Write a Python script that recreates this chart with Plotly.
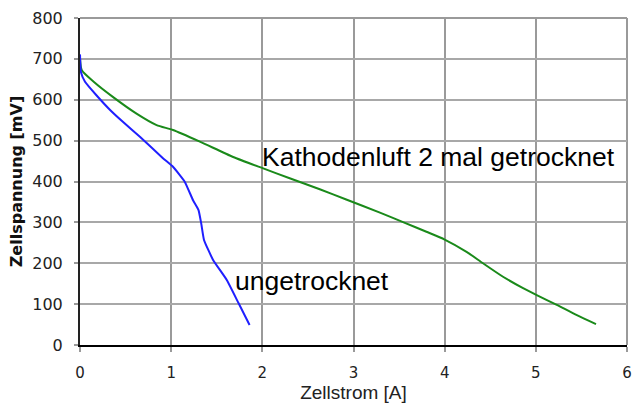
import plotly.graph_objects as go

# Data
x_ungetrocknet = [0.0, 0.01, 0.055, 0.18, 0.33, 0.47, 0.66, 0.91, 1.02, 1.15, 1.24, 1.30, 1.33, 1.36, 1.46, 1.61, 1.74, 1.86]
y_ungetrocknet = [711, 668, 644, 611, 575, 546, 509, 457, 436, 399, 354, 330, 297, 257, 208, 159, 102, 49]

x_getrocknet = [0.0, 0.02, 0.15, 0.36, 0.62, 0.84, 1.02, 1.32, 1.68, 2.01, 2.30, 2.63, 2.92, 3.29, 3.55,
                3.80, 4.0, 4.24, 4.42, 4.64, 4.86, 5.01, 5.23, 5.45, 5.66]
y_getrocknet = [701, 672, 644, 607, 566, 538, 526, 497, 460, 432, 408, 381, 356, 324, 300,
                277, 258, 228, 200, 167, 139, 122, 98, 73, 51]

label_getrocknet = "Kathodenluft 2 mal getrocknet"
label_ungetrocknet = "ungetrocknet"
x_title = "Zellstrom [A]"
y_title = "Zellspannung [mV]"

fig = go.Figure()
fig.add_trace(go.Scatter(x=x_getrocknet, y=y_getrocknet, mode="lines",
                         line=dict(color="#1a8a1a", width=2, shape="spline", smoothing=0.6), showlegend=False))
fig.add_trace(go.Scatter(x=x_ungetrocknet, y=y_ungetrocknet, mode="lines",
                         line=dict(color="#1f1fff", width=2, shape="spline", smoothing=0.4), showlegend=False))

fig.add_annotation(x=3.93, y=461, text=label_getrocknet, showarrow=False,
                   font=dict(family="Liberation Sans, Arial", size=26.5, color="black"))
fig.add_annotation(x=2.54, y=157, text=label_ungetrocknet, showarrow=False,
                   font=dict(family="Liberation Sans, Arial", size=26.5, color="black"))

# plotly omits gridlines that sit on the plot edge; draw the top and right ones
fig.add_shape(type="line", xref="paper", yref="paper", x0=0, x1=1, y0=1, y1=1,
              line=dict(color="#9a9a9a", width=2), layer="below")
fig.add_shape(type="line", xref="paper", yref="paper", x0=1, x1=1, y0=0, y1=1,
              line=dict(color="#9a9a9a", width=2), layer="below")

fig.update_layout(
    width=633, height=403,
    margin=dict(l=80, r=6, t=18, b=58),
    paper_bgcolor="white", plot_bgcolor="white",
    xaxis=dict(range=[0, 6], tickvals=[0, 1, 2, 3, 4, 5, 6], showgrid=True, automargin=False,
               ticklabeloverflow="allow", ticklabelstandoff=8,
               gridcolor="#9a9a9a", gridwidth=2, zeroline=False,
               showline=True, linecolor="black", linewidth=2,
               ticks="outside", ticklen=5, tickcolor="#9a9a9a", tickwidth=2,
               tickfont=dict(family="DejaVu Sans", size=15, color="#222"),
               title=dict(text=x_title, font=dict(family="Liberation Sans, Arial", size=19, color="#222"),
                          standoff=6)),
    yaxis=dict(range=[0, 800], tickvals=[0, 100, 200, 300, 400, 500, 600, 700, 800], showgrid=True,
               automargin=False, ticklabelstandoff=8, ticklabeloverflow="allow",
               gridcolor="#a8a8a8", gridwidth=2, zeroline=False,
               showline=True, linecolor="#222", linewidth=2,
               ticks="outside", ticklen=4, tickcolor="#9a9a9a", tickwidth=2,
               tickfont=dict(family="DejaVu Sans", size=16, color="#222"),
               title=dict(text="<b>" + y_title + "</b>", font=dict(family="DejaVu Sans", size=16, color="#111"),
                          standoff=6)),
)

# remove the default 8px page margin so the 633x403 figure fills the window exactly
fig.write_html("out.html", config={"displayModeBar": False},
               post_script="document.body.style.margin='0';document.body.style.overflow='hidden';")
